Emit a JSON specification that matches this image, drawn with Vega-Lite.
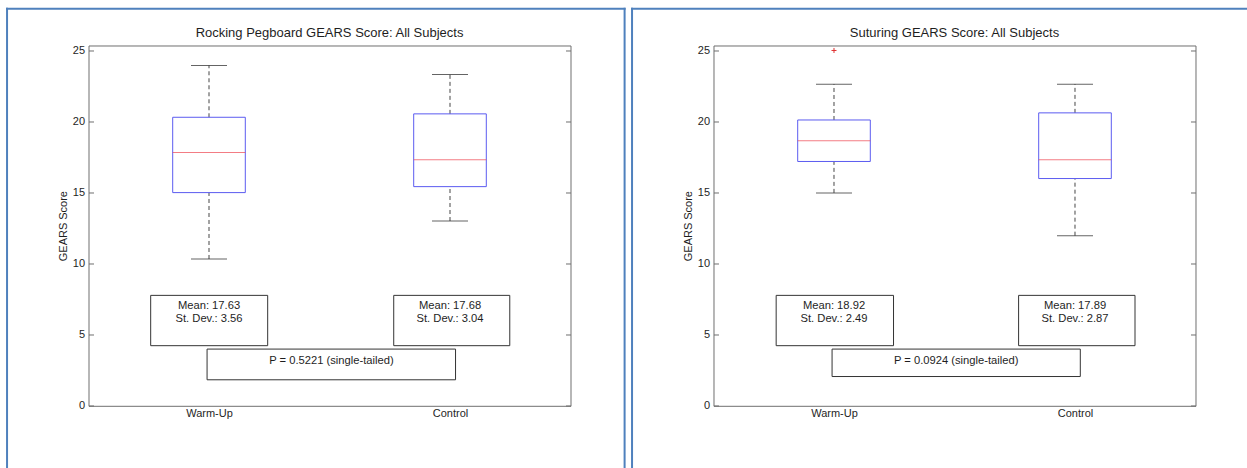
{
  "$schema": "https://vega.github.io/schema/vega-lite/v6.json",
  "padding": {"left": 4.5, "top": 6.5, "right": 0, "bottom": 0},
  "background": "white",
  "config": {
    "font": "Liberation Sans",
    "view": {"stroke": "#6e6e6e", "strokeWidth": 1},
    "scale": {"continuousPadding": 0},
    "axis": {"labelFont": "Liberation Sans", "titleFont": "Liberation Sans", "labelColor": "#1e1e1e", "titleColor": "#1e1e1e", "tickColor": "#6e6e6e", "labelFontSize": 11, "titleFontSize": 11, "titleFontWeight": "normal", "grid": false, "domain": false},
    "title": {"font": "Liberation Sans", "fontSize": 13, "fontWeight": "normal", "color": "#1e1e1e", "frame": "group", "anchor": "middle"},
    "text": {"font": "Liberation Sans", "fontSize": 11.2, "color": "#1e1e1e"}
  },
  "datasets": {
    "boxes": [
      {"chart": "Rocking", "pos": 1, "lower": 10.33, "q1": 15.0, "median": 17.82, "q3": 20.3, "upper": 23.94},
      {"chart": "Rocking", "pos": 2, "lower": 13.0, "q1": 15.42, "median": 17.32, "q3": 20.54, "upper": 23.31},
      {"chart": "Suturing", "pos": 1, "lower": 14.98, "q1": 17.19, "median": 18.65, "q3": 20.11, "upper": 22.62},
      {"chart": "Suturing", "pos": 2, "lower": 11.97, "q1": 15.99, "median": 17.32, "q3": 20.61, "upper": 22.63}
    ],
    "outliers": [
      {"chart": "Suturing", "pos": 1, "value": 25}
    ],
    "stats": [
      {"chart": "Rocking", "pos": 1, "left": 0.758, "right": 1.2435, "label": "Mean: 17.63\nSt. Dev.: 3.56"},
      {"chart": "Rocking", "pos": 2, "left": 1.7665, "right": 2.248, "label": "Mean: 17.68\nSt. Dev.: 3.04"},
      {"chart": "Suturing", "pos": 1, "left": 0.76, "right": 1.247, "label": "Mean: 18.92\nSt. Dev.: 2.49"},
      {"chart": "Suturing", "pos": 2, "left": 1.766, "right": 2.249, "label": "Mean: 17.89\nSt. Dev.: 2.87"}
    ]
  },
  "spacing": 2,
  "hconcat": [
    {
      "width": 482,
      "height": 360.3,
      "title": {"text": "Rocking Pegboard GEARS Score: All Subjects", "offset": -33},
      "layer": [
        {
          "layer": [
            {
              "data": {"name": "boxes"},
              "transform": [{"filter": "datum.chart == 'Rocking'"}],
              "mark": {"type": "rule", "strokeDash": [4, 3], "color": "#444444"},
              "encoding": {
                "x": {"field": "pos", "type": "quantitative", "title": null, "scale": {"domain": [0.5, 2.5], "nice": false, "zero": false, "padding": 0}, "axis": {"values": [1, 2], "labelExpr": "datum.value == 1 ? 'Warm-Up' : 'Control'", "ticks": false, "labelPadding": 2}},
                "y": {"field": "lower", "type": "quantitative", "title": "GEARS Score", "scale": {"domain": [0, 25.35], "nice": false, "zero": false, "padding": 0}, "axis": {"values": [0, 5, 10, 15, 20, 25], "tickSize": -5, "labelPadding": 9, "titlePadding": 4}},
                "y2": {"field": "q1"}
              }
            },
            {
              "data": {"name": "boxes"},
              "transform": [{"filter": "datum.chart == 'Rocking'"}],
              "mark": {"type": "rule", "strokeDash": [4, 3], "color": "#444444"},
              "encoding": {
                "x": {"field": "pos", "type": "quantitative", "title": null},
                "y": {"field": "q3", "type": "quantitative", "title": "GEARS Score"},
                "y2": {"field": "upper"}
              }
            },
            {
              "data": {"name": "boxes"},
              "transform": [{"filter": "datum.chart == 'Rocking'"}],
              "mark": {"type": "tick", "orient": "horizontal", "size": 36, "thickness": 1, "color": "#222222"},
              "encoding": {
                "x": {"field": "pos", "type": "quantitative", "title": null},
                "y": {"field": "lower", "type": "quantitative", "title": "GEARS Score"}
              }
            },
            {
              "data": {"name": "boxes"},
              "transform": [{"filter": "datum.chart == 'Rocking'"}],
              "mark": {"type": "tick", "orient": "horizontal", "size": 36, "thickness": 1, "color": "#222222"},
              "encoding": {
                "x": {"field": "pos", "type": "quantitative", "title": null},
                "y": {"field": "upper", "type": "quantitative", "title": "GEARS Score"}
              }
            },
            {
              "data": {"name": "boxes"},
              "transform": [{"filter": "datum.chart == 'Rocking'"}],
              "mark": {"type": "bar", "width": 72.6, "fill": "transparent", "stroke": "#5a5af0", "strokeWidth": 1},
              "encoding": {
                "x": {"field": "pos", "type": "quantitative", "title": null},
                "y": {"field": "q1", "type": "quantitative", "title": "GEARS Score"},
                "y2": {"field": "q3"}
              }
            },
            {
              "data": {"name": "boxes"},
              "transform": [{"filter": "datum.chart == 'Rocking'"}],
              "mark": {"type": "tick", "orient": "horizontal", "size": 72.6, "thickness": 1, "color": "#ee4450"},
              "encoding": {
                "x": {"field": "pos", "type": "quantitative", "title": null},
                "y": {"field": "median", "type": "quantitative", "title": "GEARS Score"}
              }
            },
            {
              "data": {"name": "stats"},
              "transform": [{"filter": "datum.chart == 'Rocking'"}],
              "mark": {"type": "rect", "fill": "white", "stroke": "#333333", "strokeWidth": 1},
              "encoding": {
                "x": {"field": "left", "type": "quantitative", "title": null},
                "x2": {"field": "right"},
                "y": {"datum": 4.23, "type": "quantitative", "title": "GEARS Score"},
                "y2": {"datum": 7.77}
              }
            },
            {
              "data": {"name": "stats"},
              "transform": [{"filter": "datum.chart == 'Rocking'"}],
              "mark": {"type": "text", "align": "center", "baseline": "top", "dy": 4.5, "lineBreak": "\n", "lineHeight": 12.7},
              "encoding": {
                "x": {"field": "pos", "type": "quantitative", "title": null},
                "y": {"datum": 7.77, "type": "quantitative", "title": "GEARS Score"},
                "text": {"field": "label"}
              }
            },
            {
              "data": {"values": [{"p": "P = 0.5221 (single-tailed)"}]},
              "mark": {"type": "rect", "fill": "white", "stroke": "#333333", "strokeWidth": 1},
              "encoding": {
                "x": {"datum": 0.992, "type": "quantitative", "title": null},
                "x2": {"datum": 2.023},
                "y": {"datum": 1.83, "type": "quantitative", "title": "GEARS Score"},
                "y2": {"datum": 3.99}
              }
            },
            {
              "data": {"values": [{"p": "P = 0.5221 (single-tailed)"}]},
              "mark": {"type": "text", "align": "center", "baseline": "middle"},
              "encoding": {
                "x": {"datum": 1.508, "type": "quantitative", "title": null},
                "y": {"datum": 3.17, "type": "quantitative", "title": "GEARS Score"},
                "text": {"field": "p"}
              }
            }
          ]
        },
        {
          "data": {"values": [{}]},
          "layer": [
            {
              "mark": {"type": "rule", "color": "#4f81bd", "strokeWidth": 2, "strokeCap": "square"},
              "encoding": {
                "x": {"datum": 0.162, "type": "quantitative", "title": null},
                "y": {"datum": 27.93, "type": "quantitative", "title": null, "scale": {"domain": [0, 25.35], "nice": false, "zero": false, "padding": 0}, "axis": {"orient": "right", "values": [0, 5, 10, 15, 20, 25], "labels": false, "tickSize": -5}},
                "y2": {"datum": -5}
              }
            },
            {
              "mark": {"type": "rule", "color": "#4f81bd", "strokeWidth": 2, "strokeCap": "square"},
              "encoding": {
                "x": {"datum": 0.162, "type": "quantitative", "title": null},
                "x2": {"datum": 2.7245},
                "y": {"datum": 27.93, "type": "quantitative", "title": null}
              }
            },
            {
              "mark": {"type": "rule", "color": "#4f81bd", "strokeWidth": 2, "strokeCap": "square"},
              "encoding": {
                "x": {"datum": 2.7245, "type": "quantitative", "title": null},
                "y": {"datum": 27.93, "type": "quantitative", "title": null},
                "y2": {"datum": -5}
              }
            }
          ]
        }
      ],
      "resolve": {"scale": {"y": "independent"}}
    },
    {
      "width": 482,
      "height": 360.3,
      "title": {"text": "Suturing GEARS Score: All Subjects", "offset": -33},
      "layer": [
        {
          "layer": [
            {
              "data": {"name": "boxes"},
              "transform": [{"filter": "datum.chart == 'Suturing'"}],
              "mark": {"type": "rule", "strokeDash": [4, 3], "color": "#444444"},
              "encoding": {
                "x": {"field": "pos", "type": "quantitative", "title": null, "scale": {"domain": [0.5, 2.5], "nice": false, "zero": false, "padding": 0}, "axis": {"values": [1, 2], "labelExpr": "datum.value == 1 ? 'Warm-Up' : 'Control'", "ticks": false, "labelPadding": 2}},
                "y": {"field": "lower", "type": "quantitative", "title": "GEARS Score", "scale": {"domain": [0, 25.35], "nice": false, "zero": false, "padding": 0}, "axis": {"values": [0, 5, 10, 15, 20, 25], "tickSize": -5, "labelPadding": 9, "titlePadding": 4}},
                "y2": {"field": "q1"}
              }
            },
            {
              "data": {"name": "boxes"},
              "transform": [{"filter": "datum.chart == 'Suturing'"}],
              "mark": {"type": "rule", "strokeDash": [4, 3], "color": "#444444"},
              "encoding": {
                "x": {"field": "pos", "type": "quantitative", "title": null},
                "y": {"field": "q3", "type": "quantitative", "title": "GEARS Score"},
                "y2": {"field": "upper"}
              }
            },
            {
              "data": {"name": "boxes"},
              "transform": [{"filter": "datum.chart == 'Suturing'"}],
              "mark": {"type": "tick", "orient": "horizontal", "size": 36, "thickness": 1, "color": "#222222"},
              "encoding": {
                "x": {"field": "pos", "type": "quantitative", "title": null},
                "y": {"field": "lower", "type": "quantitative", "title": "GEARS Score"}
              }
            },
            {
              "data": {"name": "boxes"},
              "transform": [{"filter": "datum.chart == 'Suturing'"}],
              "mark": {"type": "tick", "orient": "horizontal", "size": 36, "thickness": 1, "color": "#222222"},
              "encoding": {
                "x": {"field": "pos", "type": "quantitative", "title": null},
                "y": {"field": "upper", "type": "quantitative", "title": "GEARS Score"}
              }
            },
            {
              "data": {"name": "boxes"},
              "transform": [{"filter": "datum.chart == 'Suturing'"}],
              "mark": {"type": "bar", "width": 72.6, "fill": "transparent", "stroke": "#5a5af0", "strokeWidth": 1},
              "encoding": {
                "x": {"field": "pos", "type": "quantitative", "title": null},
                "y": {"field": "q1", "type": "quantitative", "title": "GEARS Score"},
                "y2": {"field": "q3"}
              }
            },
            {
              "data": {"name": "boxes"},
              "transform": [{"filter": "datum.chart == 'Suturing'"}],
              "mark": {"type": "tick", "orient": "horizontal", "size": 72.6, "thickness": 1, "color": "#ee4450"},
              "encoding": {
                "x": {"field": "pos", "type": "quantitative", "title": null},
                "y": {"field": "median", "type": "quantitative", "title": "GEARS Score"}
              }
            },
            {
              "data": {"name": "outliers"},
              "mark": {"type": "point", "shape": "M-1,0L1,0M0,-1L0,1", "size": 25, "filled": false, "stroke": "#e03030", "strokeWidth": 1, "opacity": 1},
              "encoding": {
                "x": {"field": "pos", "type": "quantitative", "title": null},
                "y": {"field": "value", "type": "quantitative", "title": "GEARS Score"}
              }
            },
            {
              "data": {"name": "stats"},
              "transform": [{"filter": "datum.chart == 'Suturing'"}],
              "mark": {"type": "rect", "fill": "white", "stroke": "#333333", "strokeWidth": 1},
              "encoding": {
                "x": {"field": "left", "type": "quantitative", "title": null},
                "x2": {"field": "right"},
                "y": {"datum": 4.23, "type": "quantitative", "title": "GEARS Score"},
                "y2": {"datum": 7.77}
              }
            },
            {
              "data": {"name": "stats"},
              "transform": [{"filter": "datum.chart == 'Suturing'"}],
              "mark": {"type": "text", "align": "center", "baseline": "top", "dy": 4.5, "lineBreak": "\n", "lineHeight": 12.7},
              "encoding": {
                "x": {"field": "pos", "type": "quantitative", "title": null},
                "y": {"datum": 7.77, "type": "quantitative", "title": "GEARS Score"},
                "text": {"field": "label"}
              }
            },
            {
              "data": {"values": [{"p": "P = 0.0924 (single-tailed)"}]},
              "mark": {"type": "rect", "fill": "white", "stroke": "#333333", "strokeWidth": 1},
              "encoding": {
                "x": {"datum": 0.992, "type": "quantitative", "title": null},
                "x2": {"datum": 2.022},
                "y": {"datum": 2.06, "type": "quantitative", "title": "GEARS Score"},
                "y2": {"datum": 3.99}
              }
            },
            {
              "data": {"values": [{"p": "P = 0.0924 (single-tailed)"}]},
              "mark": {"type": "text", "align": "center", "baseline": "middle"},
              "encoding": {
                "x": {"datum": 1.507, "type": "quantitative", "title": null},
                "y": {"datum": 3.17, "type": "quantitative", "title": "GEARS Score"},
                "text": {"field": "p"}
              }
            }
          ]
        },
        {
          "data": {"values": [{}]},
          "layer": [
            {
              "mark": {"type": "rule", "color": "#4f81bd", "strokeWidth": 2, "strokeCap": "square"},
              "encoding": {
                "x": {"datum": 0.162, "type": "quantitative", "title": null},
                "y": {"datum": 27.93, "type": "quantitative", "title": null, "scale": {"domain": [0, 25.35], "nice": false, "zero": false, "padding": 0}, "axis": {"orient": "right", "values": [0, 5, 10, 15, 20, 25], "labels": false, "tickSize": -5}},
                "y2": {"datum": -5}
              }
            },
            {
              "mark": {"type": "rule", "color": "#4f81bd", "strokeWidth": 2, "strokeCap": "square"},
              "encoding": {
                "x": {"datum": 0.162, "type": "quantitative", "title": null},
                "x2": {"datum": 2.72},
                "y": {"datum": 27.93, "type": "quantitative", "title": null}
              }
            }
          ]
        }
      ],
      "resolve": {"scale": {"y": "independent"}}
    }
  ]
}
